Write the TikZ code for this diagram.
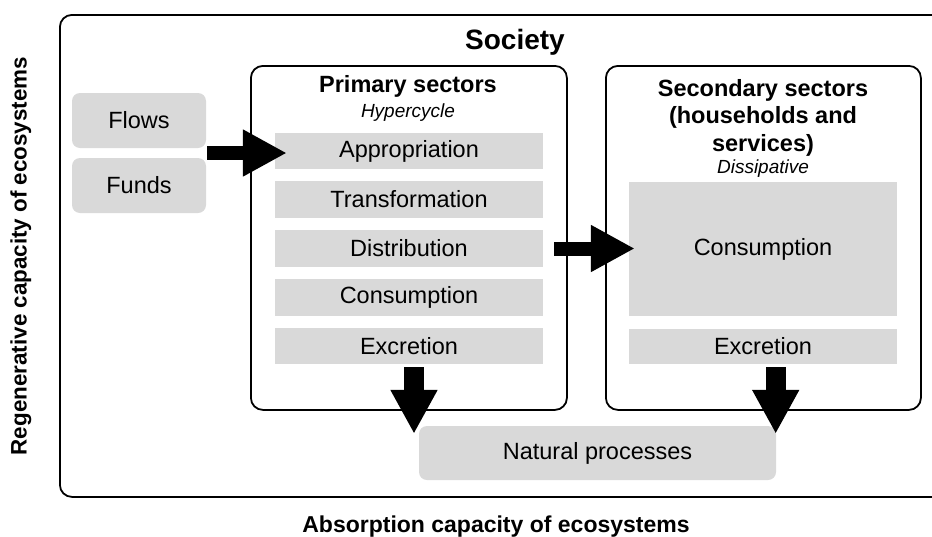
\documentclass[tikz,border=0pt]{standalone}
\usepackage{fontspec}
\setmainfont{Liberation Sans}
\usetikzlibrary{arrows.meta,calc}
\begin{document}
\begin{tikzpicture}[x=1pt,y=-1pt,
  frame/.style={draw=black,line width=1.8pt,rounded corners=12pt,inner sep=0pt,anchor=north west},
  soft/.style={fill=boxgray,rounded corners=8pt,inner sep=0pt,font=\fontsize{23.5}{28}\selectfont},
  step box/.style={fill=boxgray,inner sep=0pt,minimum width=268pt,font=\fontsize{23.5}{28}\selectfont},
  head/.style={font=\bfseries\fontsize{23.5}{27.5}\selectfont,align=center,anchor=base,inner sep=0pt},
  kind/.style={font=\itshape\fontsize{19}{22}\selectfont,anchor=base,inner sep=0pt},
  flow/.style={line width=14pt,-{Triangle[width=44pt,length=44pt]}},
  drop/.style={line width=20pt,-{Triangle[width=44pt,length=44pt]}}]
\definecolor{boxgray}{HTML}{D9D9D9}
\useasboundingbox (0,0) rectangle (932,536);
\clip (0,0) rectangle (932,536);

% outer frame: society (runs past the right edge)
\node[frame,minimum width=900pt,minimum height=482pt] (society) at (59,14) {};
\node[font=\bfseries\fontsize{28}{32}\selectfont,anchor=base,inner sep=0pt] (societytitle) at (515,49) {Society};

% inputs
\node[soft,minimum width=134pt,minimum height=55pt] (flows) at (139,120.5) {Flows};
\node[soft,minimum width=134pt,minimum height=55pt] (funds) at (139,185.5) {Funds};

% primary sectors
\node[frame,minimum width=316pt,minimum height=344pt] (primary) at (250,65) {};
\node[head] (primtitle) at (408,92) {Primary sectors};
\node[kind] (primkind) at (408,117) {Hypercycle};
\node[step box,minimum height=36pt] (appr) at (409,151) {Appropriation};
\node[step box,minimum height=37pt] (trans) at (409,199.5) {Transformation};
\node[step box,minimum height=37pt] (distr) at (409,248.5) {Distribution};
\node[step box,minimum height=37pt] (cons1) at (409,297) {Consumption};
\node[step box,minimum height=36pt] (excr1) at (409,346) {Excretion};

% secondary sectors
\node[frame,minimum width=315pt,minimum height=344pt] (secondary) at (605,65) {};
\node[head] (sectitle) at (763,96) {Secondary sectors};
\node[head] (sectitleb) at (763,123) {(households and};
\node[head] (sectitlec) at (763,151) {services)};
\node[kind] (seckind) at (763,173) {Dissipative};
\node[step box,minimum height=134pt] (cons2) at (763,249) {Consumption};
\node[step box,minimum height=35pt] (excr2) at (763,346.5) {Excretion};

% sink
\node[soft,minimum width=357pt,minimum height=54pt] (nat) at (597.5,453) {Natural processes};

% axis labels
\node[font=\bfseries\fontsize{22.4}{26}\selectfont,inner sep=0pt,rotate=90] (regen) at (21,256) {Regenerative capacity of ecosystems};
\node[font=\bfseries\fontsize{23}{27}\selectfont,inner sep=0pt,anchor=base] (absorb) at (496,532) {Absorption capacity of ecosystems};

% connectors
\coordinate (inmid) at ($(flows.south east)!0.5!(funds.north east)$);
\draw[flow] ([xshift=1pt]inmid) -- ([xshift=12pt]appr.west |- inmid);
\draw[flow] ([xshift=11pt]distr.east) -- ([xshift=6pt]cons2.west |- distr.east);
\coordinate (dropleft) at ([xshift=5pt]excr1.south);
\draw[drop] ([yshift=-3pt]dropleft) -- ([yshift=-8pt]dropleft |- nat.north);
\coordinate (dropright) at ([xshift=-0.5pt]nat.north east);
\draw[drop] ([yshift=-3pt]excr2.south -| dropright) -- ([yshift=-8pt]dropright);
\end{tikzpicture}
\end{document}
